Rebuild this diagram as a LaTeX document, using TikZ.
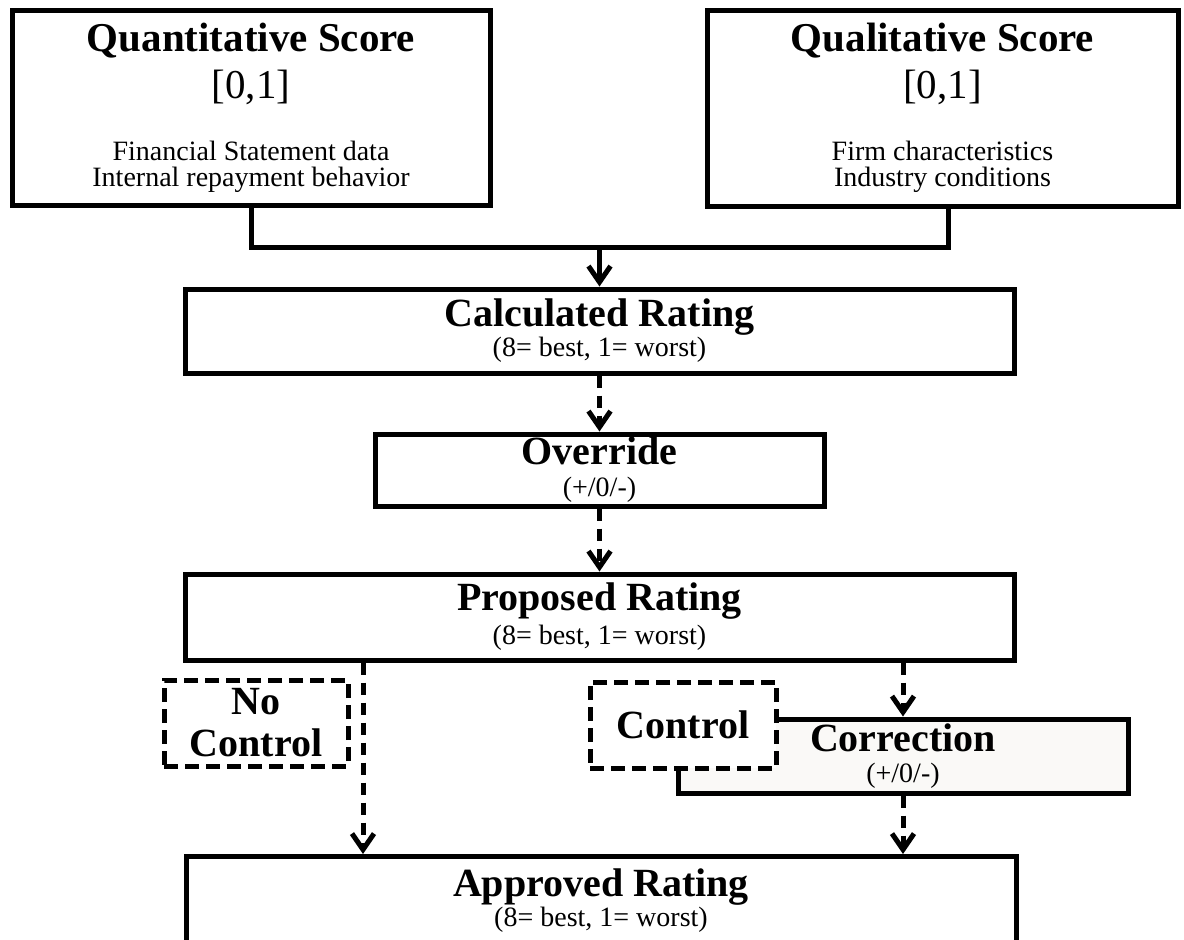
\documentclass[tikz,border=0pt]{standalone}
\usepackage{fontspec}
\setmainfont{Liberation Serif}
\usetikzlibrary{positioning,arrows.meta}
\definecolor{corrgrey}{HTML}{FAF9F7}

\newcommand{\boxtitle}[1]{{\fontsize{20}{22}\selectfont\bfseries #1}}
\newcommand{\scoretitle}[1]{{\fontsize{20.5}{22}\selectfont\bfseries #1}}
\newcommand{\range}{{\fontsize{20.5}{22}\selectfont [0,1]}}

\begin{document}
\begin{tikzpicture}[
  x=0.5pt, y=-0.5pt,
  font=\fontsize{14}{13}\selectfont,
  line width=2.5pt,
  box/.style={draw, align=center, inner sep=0pt,
              execute at begin node={\lineskiplimit=-30pt}},
  dashbox/.style={box, fill=white, dash pattern=on 7pt off 3.5pt},
  arrow/.style={-{Straight Barb[length=8pt,width=11pt]}},
  dasharrow/.style={arrow, dash pattern=on 6pt off 4pt}
]
\useasboundingbox (0,0) rectangle (1184,939);
\clip (0,0) rectangle (1184,939);

% scores
\node[box, minimum width=239pt, minimum height=97.5pt] (quant) at (251,107.5)
  {\scoretitle{Quantitative Score}\\[10.5pt] \range\\[18pt]
   Financial Statement data\\ Internal repayment behavior};
\node[box, minimum width=235.5pt, minimum height=98pt] (qual) at (942.5,108)
  {\scoretitle{Qualitative Score}\\[10.5pt] \range\\[18pt]
   Firm characteristics\\ Industry conditions};

% rating chain
\node[box, minimum width=414.5pt, minimum height=42pt] (calc) at (599.5,331)
  {\boxtitle{Calculated Rating}\\[2pt] (8= best, 1= worst)};
\node[box, minimum width=224.5pt, minimum height=36pt, below=28pt of calc] (override)
  {\boxtitle{Override}\\[3pt] (+/0/-)};
\node[box, minimum width=414.5pt, minimum height=43pt, below=31.5pt of override] (proposed)
  {\boxtitle{Proposed Rating}\\[4pt] (8= best, 1= worst)};
\node[box, fill=corrgrey, minimum width=225pt, minimum height=37pt] (correction) at (903,756)
  {\boxtitle{Correction}\\[2.5pt] (+/0/-)};
\node[dashbox, minimum width=93pt, minimum height=43pt] (control) at (683,725)
  {\boxtitle{Control}};
\node[dashbox, minimum width=92pt, minimum height=43pt] (nocontrol) at (256,723)
  {\boxtitle{No}\\[8pt] \boxtitle{Control}};
\node[box, minimum width=415pt, minimum height=44.5pt] (approved) at (601,901)
  {\boxtitle{Approved Rating}\\[2pt] (8= best, 1= worst)};

\coordinate (merge) at (599.5,247);
\coordinate (nocx) at (363,0);

\draw (quant.south) |- (merge);
\draw ([xshift=3pt]qual.south) |- (merge);
\draw[arrow] (merge) -- (calc.north);
\draw[dasharrow] (calc) -- (override);
\draw[dasharrow] (override) -- (proposed);
\draw[dasharrow] (proposed.south -| nocx) -- (approved.north -| nocx);
\draw[dasharrow] (proposed.south -| correction.north) -- (correction.north);
\draw[dasharrow] (correction.south) -- (approved.north -| correction.south);
\end{tikzpicture}
\end{document}
